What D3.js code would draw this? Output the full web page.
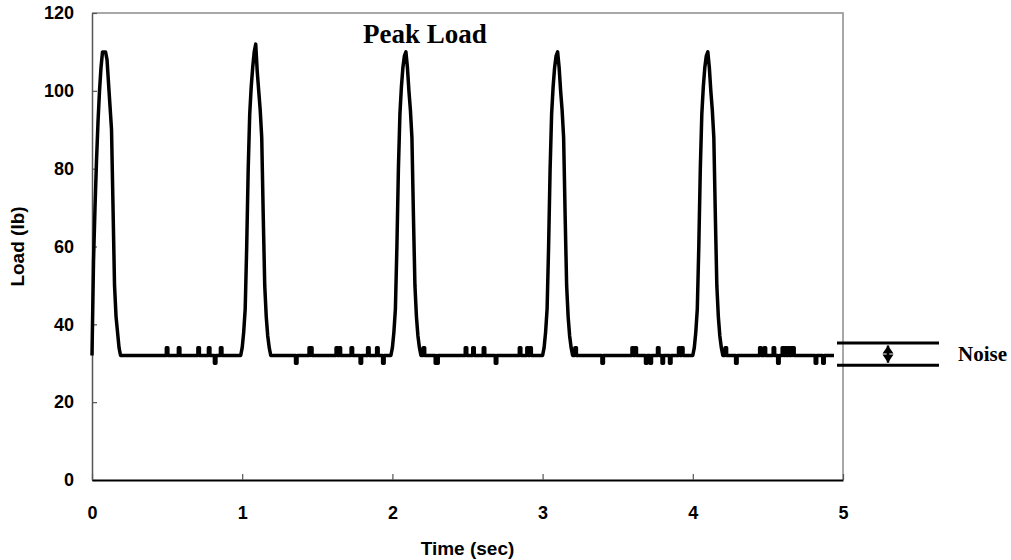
<!DOCTYPE html>
<html>
<head>
<meta charset="utf-8">
<script src="https://cdn.jsdelivr.net/npm/d3@7"></script>
<style>
  body { margin: 0; background: #fff; }
  svg { display: block; }
  .tick text { font-family: "Liberation Sans", Arial, sans-serif; font-weight: bold; font-size: 18px; fill: #000; }
</style>
</head>
<body>
<svg id="chart" width="1011" height="560"></svg>
<script>
// load signal, sampled every 0.01 s
var baseLoad = 32;
var peakStarts = [0.00, 0.99, 1.99, 3.00, 4.00];
var peak1 = [32, 56, 70, 82, 92, 100, 106, 110, 110, 110, 108, 102, 96, 90, 70, 50, 42, 38, 34, 32];
var peak2 = [32, 34, 38, 44, 60, 80, 94, 101, 106, 110, 112, 105, 100, 95, 88, 68, 50, 42, 37, 34, 32];
var peak3 = [32, 34, 38, 44, 60, 80, 94, 101, 106, 109, 110, 106, 100, 95, 88, 68, 50, 42, 37, 34, 32];
var peak4 = [32, 34, 38, 44, 60, 80, 94, 101, 106, 109, 110, 106, 100, 95, 88, 68, 50, 42, 37, 34, 32];
var peak5 = [32, 34, 38, 44, 60, 80, 94, 101, 106, 109, 110, 106, 100, 95, 88, 68, 50, 42, 37, 34, 32];
var peaks = [peak1, peak2, peak3, peak4, peak5];
// noise spikes on the baseline
var upTimes = [0.50, 0.58, 0.71, 0.78, 0.86, 1.45, 1.46, 1.63, 1.65, 1.73, 1.84, 1.90, 2.21, 2.49, 2.54,
               2.61, 2.85, 2.90, 2.92, 3.22, 3.60, 3.62, 3.77, 3.91, 3.93, 4.22, 4.45, 4.48, 4.54, 4.60,
               4.62, 4.64, 4.66, 4.67];
var upLoad = 34;
var downTimes = [0.82, 1.36, 1.79, 1.94, 2.29, 2.30, 2.69, 3.40, 3.69, 3.72, 3.80, 3.85, 4.29, 4.57, 4.82, 4.87];
var downLoad = 30;
var endTime = 4.94;
var noiseBand = [35.2, 29.5];

var xTicks = [0, 1, 2, 3, 4, 5];
var yTicks = [0, 20, 40, 60, 80, 100, 120];

var svg = d3.select("#chart");
var margin = {left: 92, right: 168, top: 13, bottom: 80};
var W = 1011, H = 560;

var x = d3.scaleLinear().domain([0, 5]).range([margin.left, W - margin.right]);
var y = d3.scaleLinear().domain([0, 120]).range([H - margin.bottom, margin.top]);

// build the trace: peaks are joined linearly, noise samples are held for one sample period
var samples = new Map();
peaks.forEach(function (p, j) {
    var k0 = Math.round(peakStarts[j] * 100);
    p.forEach(function (v, i) { samples.set(k0 + i, {v: v, hold: false}); });
});
upTimes.forEach(function (t) { samples.set(Math.round(t * 100), {v: upLoad, hold: true}); });
downTimes.forEach(function (t) { samples.set(Math.round(t * 100), {v: downLoad, hold: true}); });
var kEnd = Math.round(endTime * 100);
if (!samples.has(kEnd)) samples.set(kEnd, {v: baseLoad, hold: false});
var data = [];
Array.from(samples.keys()).sort(function (a, b) { return a - b; }).forEach(function (k) {
    var s = samples.get(k);
    if (s.hold) {
        data.push({t: (k - 0.5) / 100, v: baseLoad}, {t: (k - 0.5) / 100, v: s.v},
                  {t: (k + 0.5) / 100, v: s.v}, {t: (k + 0.5) / 100, v: baseLoad});
    } else {
        data.push({t: k / 100, v: s.v});
    }
});

// plot area frame (top/right grey)
svg.append("path")
    .attr("d", "M" + x(0) + "," + y(120) + "H" + x(5) + "V" + y(0))
    .attr("fill", "none").attr("stroke", "#8c8c8c").attr("stroke-width", 1.5);

var yAxis = svg.append("g")
    .attr("transform", "translate(" + x(0) + ",0)")
    .call(d3.axisLeft(y).tickValues(yTicks).tickSizeInner(-5).tickSizeOuter(0).tickPadding(18));
yAxis.select(".domain").attr("stroke", "#555").attr("stroke-width", 1.5);
yAxis.selectAll(".tick line").attr("stroke", "#555").attr("stroke-width", 1.2);

var xAxis = svg.append("g")
    .attr("transform", "translate(0," + y(0) + ")")
    .call(d3.axisBottom(x).tickValues(xTicks).tickFormat(d3.format("d"))
        .tickSizeInner(-6).tickSizeOuter(0).tickPadding(26));
xAxis.select(".domain").attr("stroke", "#000").attr("stroke-width", 2);
xAxis.selectAll(".tick line").attr("stroke", "#555").attr("stroke-width", 1.2);

// load trace
var line = d3.line().x(function (d) { return x(d.t); }).y(function (d) { return y(d.v); });
svg.append("path")
    .datum(data)
    .attr("d", line)
    .attr("fill", "none")
    .attr("stroke", "#000")
    .attr("stroke-width", 3.5)
    .attr("stroke-linejoin", "round");

// noise band annotation
svg.selectAll(".band").data(noiseBand).enter().append("line")
    .attr("class", "band")
    .attr("x1", x(5) - 6).attr("x2", x(5) + 96)
    .attr("y1", function (d) { return y(d); }).attr("y2", function (d) { return y(d); })
    .attr("stroke", "#000").attr("stroke-width", 3);
var ax = 888, aTop = y(noiseBand[0]) + 2.5, aBot = y(noiseBand[1]) - 2.5, aMid = (aTop + aBot) / 2;
svg.append("line").attr("x1", ax).attr("x2", ax).attr("y1", aTop).attr("y2", aBot)
    .attr("stroke", "#000").attr("stroke-width", 2.5);
svg.append("path")
    .attr("d", "M" + ax + "," + aTop + "L" + (ax + 5.5) + "," + (aMid - 0.5) + "L" + (ax - 5.5) + "," + (aMid - 0.5) + "Z" +
               "M" + ax + "," + aBot + "L" + (ax + 5.5) + "," + (aMid + 0.5) + "L" + (ax - 5.5) + "," + (aMid + 0.5) + "Z")
    .attr("fill", "#000");
svg.append("text")
    .attr("x", 958).attr("y", aMid + 7)
    .attr("font-family", "Liberation Serif, Times New Roman, serif")
    .attr("font-weight", "bold").attr("font-size", 21)
    .text("Noise");

// titles
svg.append("text")
    .attr("x", 425).attr("y", 43).attr("text-anchor", "middle")
    .attr("font-family", "Liberation Serif, Times New Roman, serif")
    .attr("font-weight", "bold").attr("font-size", 27)
    .text("Peak Load");

svg.append("text")
    .attr("x", (x(0) + x(5)) / 2).attr("y", 555).attr("text-anchor", "middle")
    .attr("font-family", "Liberation Sans, Arial, sans-serif")
    .attr("font-weight", "bold").attr("font-size", 19)
    .text("Time (sec)");

svg.append("text")
    .attr("transform", "translate(24," + y(60) + ") rotate(-90)")
    .attr("text-anchor", "middle")
    .attr("font-family", "Liberation Sans, Arial, sans-serif")
    .attr("font-weight", "bold").attr("font-size", 19)
    .text("Load (lb)");
</script>
</body>
</html>
